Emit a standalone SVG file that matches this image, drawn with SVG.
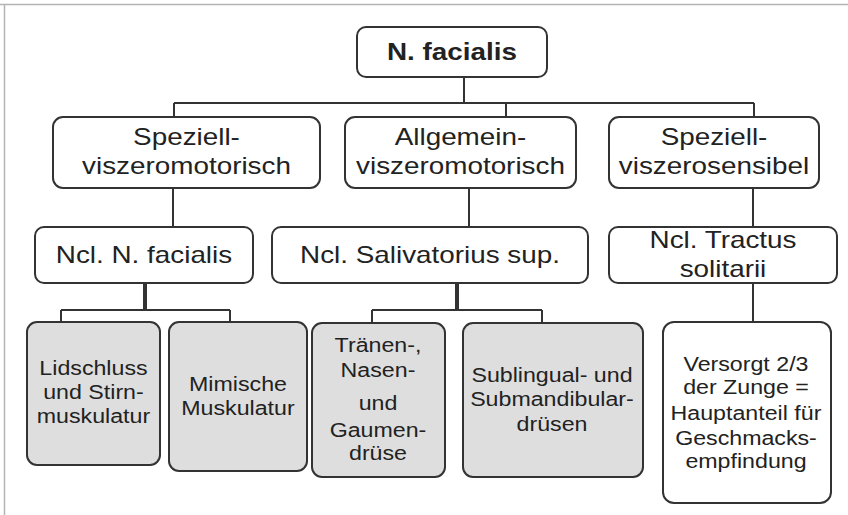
<svg xmlns="http://www.w3.org/2000/svg" width="848" height="515" viewBox="0 0 848 515">
<style>
.frame{stroke:#b4b4b4;stroke-width:1.5;fill:none}
.box{fill:#fff;stroke:#333;stroke-width:2}
.gbox{fill:#dedede;stroke:#333;stroke-width:2}
.ln{stroke:#333;stroke-width:2;fill:none}
.stem{stroke:#333;stroke-width:4;fill:none}
text{font-family:"Liberation Sans",Arial,sans-serif;fill:#222;text-anchor:middle}
.t1{font-size:24px;font-weight:bold}
.t2{font-size:24px}
.t3{font-size:20px}
</style>
<rect width="848" height="515" fill="#fff"/>
<path class="frame" d="M0 4.5H848M4.5 4.5V515"/>
<g id="connectors">
<path class="ln" d="M464 77V103M174 103H754M174 103V117M506 103V117M754 103V117"/>
<path class="ln" d="M173 188V227M469 188V227M753 188V227M753 283V322"/>
<path class="stem" d="M145 283V310"/>
<path class="ln" d="M61 310H230M61 310V322M230 310V322"/>
<path class="stem" d="M457 283V310"/>
<path class="ln" d="M372 310H542M372 310V323M542 310V323"/>
</g>
<g id="n_facialis">
<rect class="box" x="357" y="27" width="190" height="50" rx="9"/>
<text class="t1" transform="scale(1.16 1)" x="389.66" y="60">N. facialis</text>
</g>
<g id="speziell_motorisch">
<rect class="box" x="53" y="117" width="267" height="71" rx="10"/>
<text class="t2" transform="scale(1.16 1)" x="160.78" y="145">Speziell-</text>
<text class="t2" transform="scale(1.16 1)" x="160.78" y="174">viszeromotorisch</text>
</g>
<g id="allgemein_motorisch">
<rect class="box" x="345" y="117" width="231" height="71" rx="10"/>
<text class="t2" transform="scale(1.16 1)" x="396.98" y="145">Allgemein-</text>
<text class="t2" transform="scale(1.16 1)" x="396.98" y="174">viszeromotorisch</text>
</g>
<g id="speziell_sensibel">
<rect class="box" x="609" y="117" width="210" height="71" rx="10"/>
<text class="t2" transform="scale(1.16 1)" x="615.52" y="145">Speziell-</text>
<text class="t2" transform="scale(1.16 1)" x="615.52" y="174">viszerosensibel</text>
</g>
<g id="ncl_facialis">
<rect class="box" x="35" y="227" width="218" height="56" rx="9"/>
<text class="t2" transform="scale(1.16 1)" x="124.14" y="263">Ncl. N. facialis</text>
</g>
<g id="ncl_salivatorius">
<rect class="box" x="272" y="227" width="316" height="56" rx="9"/>
<text class="t2" transform="scale(1.16 1)" x="370.69" y="263">Ncl. Salivatorius sup.</text>
</g>
<g id="ncl_tractus">
<rect class="box" x="609" y="227" width="228" height="56" rx="9"/>
<text class="t2" transform="scale(1.16 1)" x="623.28" y="248">Ncl. Tractus</text>
<text class="t2" transform="scale(1.16 1)" x="623.28" y="277">solitarii</text>
</g>
<g id="lidschluss">
<rect class="gbox" x="27" y="322" width="133" height="143" rx="10"/>
<text class="t3" transform="scale(1.16 1)" x="80.60" y="375">Lidschluss</text>
<text class="t3" transform="scale(1.16 1)" x="80.60" y="399">und Stirn-</text>
<text class="t3" transform="scale(1.16 1)" x="80.60" y="423">muskulatur</text>
</g>
<g id="mimische">
<rect class="gbox" x="169" y="322" width="138" height="149" rx="10"/>
<text class="t3" transform="scale(1.16 1)" x="205.17" y="391">Mimische</text>
<text class="t3" transform="scale(1.16 1)" x="205.17" y="415">Muskulatur</text>
</g>
<g id="traenen">
<rect class="gbox" x="312" y="323" width="133" height="154" rx="10"/>
<text class="t3" transform="scale(1.16 1)" x="325.86" y="352">Tränen-,</text>
<text class="t3" transform="scale(1.16 1)" x="325.86" y="377">Nasen-</text>
<text class="t3" transform="scale(1.16 1)" x="325.86" y="410">und</text>
<text class="t3" transform="scale(1.16 1)" x="325.86" y="437">Gaumen-</text>
<text class="t3" transform="scale(1.16 1)" x="325.86" y="460">drüse</text>
</g>
<g id="sublingual">
<rect class="gbox" x="463" y="323" width="180" height="154" rx="10"/>
<text class="t3" transform="scale(1.16 1)" x="475.86" y="382">Sublingual- und</text>
<text class="t3" transform="scale(1.16 1)" x="475.86" y="406">Submandibular-</text>
<text class="t3" transform="scale(1.16 1)" x="475.86" y="431">drüsen</text>
</g>
<g id="versorgt">
<rect class="box" x="663" y="322" width="168" height="181" rx="11"/>
<text class="t3" transform="scale(1.16 1)" x="643.10" y="371">Versorgt 2/3</text>
<text class="t3" transform="scale(1.16 1)" x="643.10" y="394">der Zunge =</text>
<text class="t3" transform="scale(1.16 1)" x="643.10" y="420">Hauptanteil für</text>
<text class="t3" transform="scale(1.16 1)" x="643.10" y="445">Geschmacks-</text>
<text class="t3" transform="scale(1.16 1)" x="643.10" y="468">empfindung</text>
</g>
</svg>
